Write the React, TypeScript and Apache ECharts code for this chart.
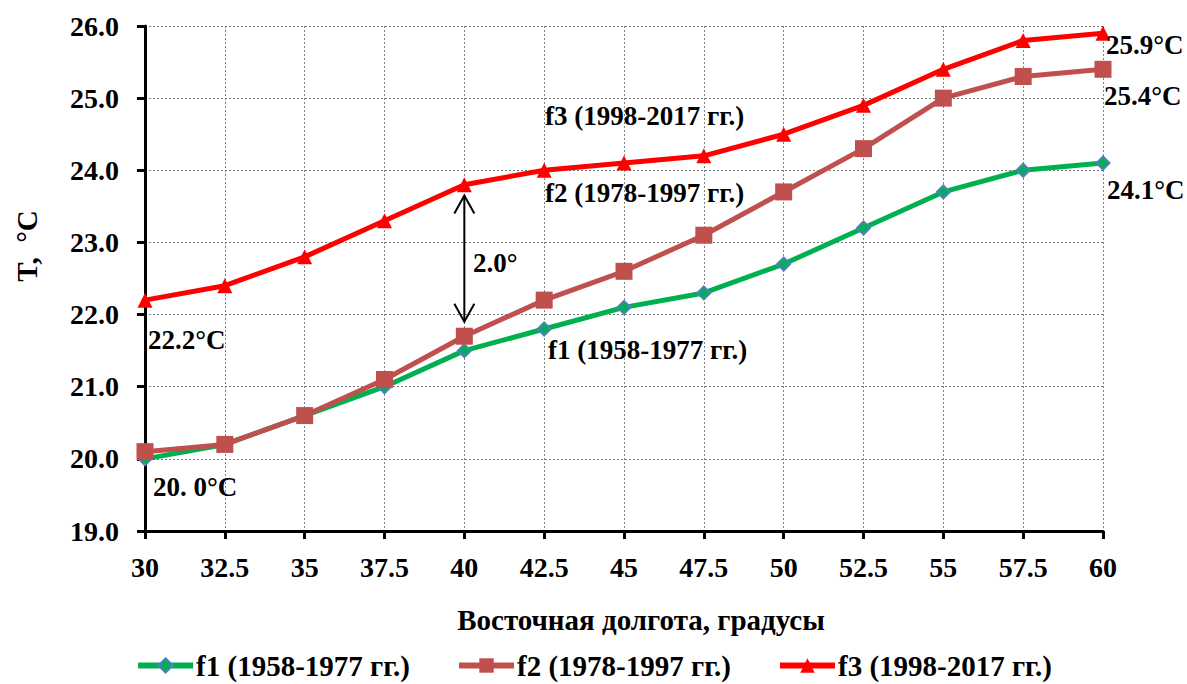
import React, { useEffect, useRef } from "react";
import * as echarts from "echarts";

const longitudes = [30, 32.5, 35, 37.5, 40, 42.5, 45, 47.5, 50, 52.5, 55, 57.5, 60];
const f1Values = [20.0, 20.2, 20.6, 21.0, 21.5, 21.8, 22.1, 22.3, 22.7, 23.2, 23.7, 24.0, 24.1];
const f2Values = [20.1, 20.2, 20.6, 21.1, 21.7, 22.2, 22.6, 23.1, 23.7, 24.3, 25.0, 25.3, 25.4];
const f3Values = [22.2, 22.4, 22.8, 23.3, 23.8, 24.0, 24.1, 24.2, 24.5, 24.9, 25.4, 25.8, 25.9];
const seriesNames = ["f1 (1958-1977 гг.)", "f2 (1978-1997 гг.)", "f3 (1998-2017 гг.)"];
const arrowSpan = [[40, 23.65, 21.9]];
const xTitle = "Восточная долгота, градусы";
const yTitle = "T,  °C";

const FONT = "Liberation Serif";

export default function App() {
  const ref = useRef<HTMLDivElement>(null);
  useEffect(() => {
    document.body.style.margin = "0";
    if (!ref.current) return;
    const chart = echarts.init(ref.current, null, { renderer: "svg" });
    const pair = (vals: number[]) => longitudes.map((x, i) => [x, vals[i]]);
    const txt = (text: string, x: number, y: number, size = 27, extra: any = {}) => ({
      type: "text",
      x,
      y,
      ...extra,
      style: {
        text,
        fill: "#000",
        fontFamily: FONT,
        fontWeight: "bold",
        fontSize: size,
        verticalAlign: "middle",
        align: extra.align || "left",
      },
      z: 100,
    });
    const tf = (fs: number) => ({ fontFamily: FONT, fontWeight: "bold" as const, fontSize: fs, color: "#000" });
    chart.setOption({
      animation: false,
      backgroundColor: "#fff",
      textStyle: { fontFamily: FONT },
      grid: { left: 145, right: 84, top: 26, bottom: 153 },
      xAxis: {
        type: "value",
        min: 30,
        max: 60,
        interval: 2.5,
        axisLine: { lineStyle: { color: "#000", width: 3 } },
        axisTick: { length: 8, lineStyle: { color: "#000", width: 3 } },
        axisLabel: { ...tf(28), margin: 22 },
        splitLine: { show: true, lineStyle: { color: "#808080", type: [2, 2], width: 1 } },
      },
      yAxis: {
        type: "value",
        min: 19,
        max: 26,
        interval: 1,
        axisLine: { show: true, lineStyle: { color: "#000", width: 3 } },
        axisTick: { show: true, length: 8, lineStyle: { color: "#000", width: 3 } },
        axisLabel: { ...tf(28), margin: 26, formatter: (v: number) => v.toFixed(1) },
        splitLine: { show: true, lineStyle: { color: "#808080", type: [2, 2], width: 1 } },
      },
      legend: {
        bottom: -1,
        left: "center",
        itemWidth: 55,
        itemHeight: 18,
        itemGap: 46,
        lineStyle: { width: 6 },
        textStyle: { ...tf(29), padding: [0, 0, 0, -2] },
        data: seriesNames,
      },
      series: [
        {
          name: seriesNames[0],
          type: "line",
          data: pair(f1Values),
          symbol: "diamond",
          symbolSize: 13,
          lineStyle: { color: "#00B050", width: 5 },
          itemStyle: { color: "#00B050", borderColor: "#4F81BD", borderWidth: 2 },
          z: 3,
        },
        {
          name: seriesNames[1],
          type: "line",
          data: pair(f2Values),
          symbol: "rect",
          symbolSize: 17,
          lineStyle: { color: "#C0504D", width: 5 },
          itemStyle: { color: "#C0504D" },
          z: 4,
        },
        {
          name: seriesNames[2],
          type: "line",
          data: pair(f3Values),
          symbol: "triangle",
          symbolSize: 15,
          lineStyle: { color: "#FF0000", width: 5 },
          itemStyle: { color: "#FF0000" },
          z: 5,
        },
        {
          type: "custom",
          data: arrowSpan,
          silent: true,
          z: 6,
          renderItem: (params: any, api: any) => {
            const top = api.coord([api.value(0), api.value(1)]);
            const bot = api.coord([api.value(0), api.value(2)]);
            const st = { stroke: "#000", lineWidth: 2, fill: "none" };
            return {
              type: "group",
              children: [
                { type: "line", shape: { x1: top[0], y1: top[1], x2: bot[0], y2: bot[1] }, style: st },
                {
                  type: "polyline",
                  shape: { points: [[top[0] - 10, top[1] + 18], [top[0], top[1]], [top[0] + 10, top[1] + 18]] },
                  style: st,
                },
                {
                  type: "polyline",
                  shape: { points: [[bot[0] - 10, bot[1] - 18], [bot[0], bot[1]], [bot[0] + 10, bot[1] - 18]] },
                  style: st,
                },
              ],
            };
          },
        },
      ],
      graphic: [
        txt("25.9°C", 1106, 45),
        txt("25.4°C", 1104, 96),
        txt("24.1°C", 1107, 190),
        txt("22.2°C", 148, 340),
        txt("20. 0°C", 153, 487),
        txt("f3 (1998-2017 гг.)", 545, 116),
        txt("f2 (1978-1997 гг.)", 545, 193),
        txt("f1 (1958-1977 гг.)", 548, 350),
        txt("2.0°", 473, 263),
        txt(xTitle, 641, 620, 29, { align: "center" }),
        txt(yTitle, 27, 246, 29, { align: "center", rotation: Math.PI / 2 }),
      ],
    });
    return () => chart.dispose();
  }, []);
  return <div ref={ref} style={{ width: 1187, height: 684 }} />;
}
